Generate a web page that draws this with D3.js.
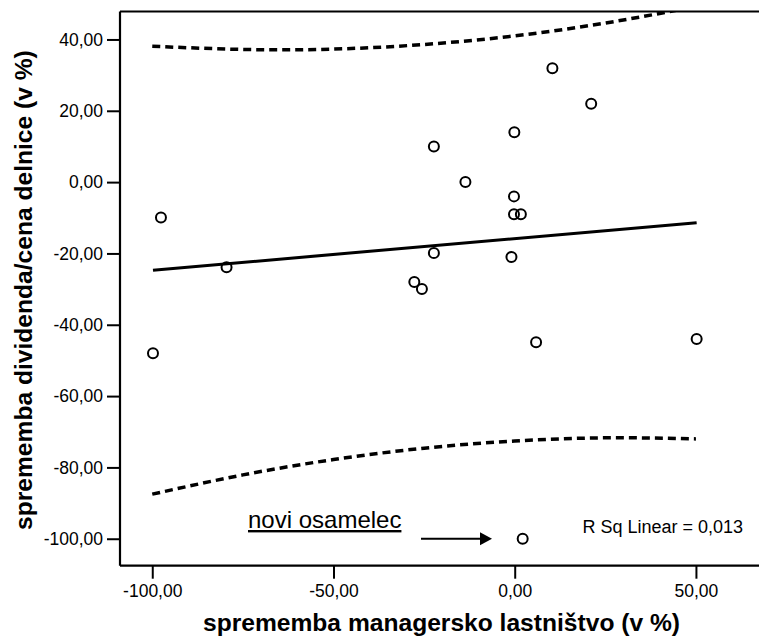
<!DOCTYPE html>
<html>
<head>
<meta charset="utf-8">
<script src="https://cdn.jsdelivr.net/npm/d3@7"></script>
<style>
  body { margin: 0; background: #fff; }
  text { font-family: Arial, "Liberation Sans", sans-serif; }
</style>
</head>
<body>
<svg id="drawing_region"></svg>
<script>
// points: change of managerial ownership (x) vs change of dividend/price (y)
const xValues = [-99.8, -97.6, -79.5, -22.3, -13.6, -0.1, -0.2, -0.2, 1.7, -22.3, -0.9, -27.7, -25.6, 5.9, 10.4, 21.1, 50.2, 2.2];
const yValues = [-48.0, -9.9, -23.9, 10.0, 0.0, 14.0, -4.0, -9.0, -9.0, -19.9, -21.0, -28.0, -30.0, -44.9, 31.9, 22.0, -44.0, -100.0];

// fit line and prediction bounds
const fitX = [-99.8, 50.2];
const fitY = [-24.7, -11.4];
const bandX = [-100, -75, -50, -25, 0, 25, 50];
const bandUpper = [38.1, 37.2, 37.3, 38.6, 41.0, 44.6, 49.2];
const bandLower = [-87.5, -82.1, -77.8, -74.6, -72.6, -71.7, -72.0];

const xTicks = [-100, -50, 0, 50];
const yTicks = [40, 20, 0, -20, -40, -60, -80, -100];
const rSquared = "0,013";

const width = 759, height = 636;
const plotLeft = 120, plotRight = 759, plotTop = 11.5, plotBottom = 565.7;

const svg = d3.select('#drawing_region')
    .attr('width', width)
    .attr('height', height);

const x = d3.scaleLinear().domain([-108.9, 67.4]).range([plotLeft, plotRight]);
const y = d3.scaleLinear().domain([-107.56, 47.84]).range([plotBottom, plotTop]);
const fmt = d => d3.format('.2f')(d).replace('.', ',').replace('−', '-');

svg.append('clipPath').attr('id', 'plot_clip')
    .append('rect')
    .attr('x', plotLeft).attr('y', plotTop)
    .attr('width', plotRight - plotLeft).attr('height', plotBottom - plotTop);

// frame line on top
svg.append('line')
    .attr('x1', plotLeft).attr('x2', plotRight).attr('y1', plotTop).attr('y2', plotTop)
    .attr('stroke', 'black').attr('stroke-width', 2.2);

// axes
const xAxis = svg.append('g')
    .attr('transform', `translate(0, ${plotBottom})`)
    .call(d3.axisBottom(x).tickValues(xTicks).tickFormat(fmt).tickSize(13).tickPadding(6));
const yAxis = svg.append('g')
    .attr('transform', `translate(${plotLeft}, 0)`)
    .call(d3.axisLeft(y).tickValues(yTicks).tickFormat(fmt).tickSize(13).tickPadding(4));

[xAxis, yAxis].forEach(g => {
    g.select('.domain').attr('stroke', 'black').attr('stroke-width', 2.2);
    g.selectAll('.tick line').attr('stroke', 'black').attr('stroke-width', 2);
    g.selectAll('.tick text')
        .attr('fill', 'black')
        .style('font-size', '17.5px')
        .style('font-family', 'Arial, "Liberation Sans", sans-serif');
});
xAxis.select('.domain').attr('d', `M${plotLeft},0H${plotRight}`);
yAxis.select('.domain').attr('d', `M0,${plotTop}V${plotBottom}`);

const plot = svg.append('g').attr('clip-path', 'url(#plot_clip)');

// prediction bounds
const band = (vals) => d3.line()
    .x((d, i) => x(bandX[i]))
    .y(d => y(d))
    .curve(d3.curveNatural)(vals);

[bandUpper, bandLower].forEach(vals => {
    plot.append('path')
        .attr('d', band(vals))
        .attr('fill', 'none')
        .attr('stroke', 'black')
        .attr('stroke-width', 3.5)
        .attr('stroke-dasharray', '8,5');
});

// fit line
plot.append('line')
    .attr('x1', x(fitX[0])).attr('y1', y(fitY[0]))
    .attr('x2', x(fitX[1])).attr('y2', y(fitY[1]))
    .attr('stroke', 'black')
    .attr('stroke-width', 3);

// points
plot.selectAll('circle')
    .data(xValues.map((v, i) => [v, yValues[i]]))
    .join('circle')
    .attr('cx', d => x(d[0]))
    .attr('cy', d => y(d[1]))
    .attr('r', 5)
    .attr('fill', 'none')
    .attr('stroke', 'black')
    .attr('stroke-width', 2);

// annotation: new outlier
svg.append('text')
    .attr('x', 248)
    .attr('y', 528)
    .style('font-size', '24px')
    .style('text-decoration', 'underline')
    .text('novi osamelec');

svg.append('line')
    .attr('x1', 421).attr('x2', 482)
    .attr('y1', y(-100)).attr('y2', y(-100))
    .attr('stroke', 'black').attr('stroke-width', 1.8);
svg.append('path')
    .attr('d', `M${480},${y(-100) - 6.5}L${492},${y(-100)}L${480},${y(-100) + 6.5}Z`)
    .attr('fill', 'black');

svg.append('text')
    .attr('x', 743)
    .attr('y', 533)
    .attr('text-anchor', 'end')
    .style('font-size', '18px')
    .text(`R Sq Linear = ${rSquared}`);

// axis titles
svg.append('text')
    .attr('x', 441.5)
    .attr('y', 631)
    .attr('text-anchor', 'middle')
    .style('font-size', '24.6px')
    .style('font-weight', 'bold')
    .text('sprememba managersko lastništvo (v %)');

svg.append('text')
    .attr('transform', `translate(32, ${(plotTop + plotBottom) / 2 + 1.5}) rotate(-90)`)
    .attr('text-anchor', 'middle')
    .style('font-size', '24.6px')
    .style('font-weight', 'bold')
    .text('sprememba dividenda/cena delnice (v %)');
</script>
</body>
</html>
